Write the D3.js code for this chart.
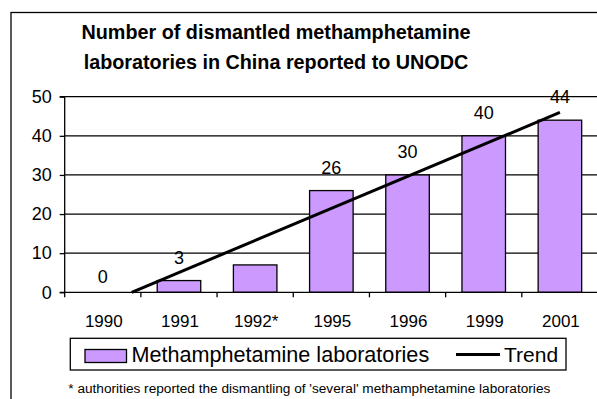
<!DOCTYPE html>
<html>
<head>
<meta charset="utf-8">
<script src="https://cdn.jsdelivr.net/npm/d3@7"></script>
<style>
  html, body { margin: 0; padding: 0; background: #fff; }
  svg { display: block; font-family: Arial, "Liberation Sans", sans-serif; }
</style>
</head>
<body>
<svg id="chart" width="597" height="399"></svg>
<script>
// ---- data ----
const categories = ["1990", "1991", "1992*", "1995", "1996", "1999", "2001"];
const labValues = [0, 3, 7, 26, 30, 40, 44];
const dataLabels = ["0", "3", "", "26", "30", "40", "44"];
const yTicks = [0, 10, 20, 30, 40, 50];
const titleLines = ["Number of dismantled methamphetamine", "laboratories in China reported to UNODC"];
const legendLabels = ["Methamphetamine laboratories", "Trend"];
const footnote = "* authorities reported the dismantling of 'several' methamphetamine laboratories";

// ---- layout ----
const svg = d3.select("#chart");
const plot = { left: 64.7, right: 598, top: 96.7, bottom: 292.3 };

const x = d3.scaleBand().domain(categories).range([plot.left, plot.right]).paddingInner(0.4286).paddingOuter(0.2143);
const xStep = (plot.right - plot.left) / categories.length;
const y = d3.scaleLinear().domain([0, 50]).range([plot.bottom, plot.top]);

// outer frame
svg.append("rect").attr("x", 11).attr("y", 12.5).attr("width", 600).attr("height", 400)
  .attr("fill", "none").attr("stroke", "#000").attr("stroke-width", 1.3);

// title
svg.append("g").selectAll("text").data(titleLines).join("text")
  .attr("x", 276).attr("y", (d, i) => 39 + i * 29.5)
  .attr("text-anchor", "middle").attr("font-weight", "bold").attr("font-size", 19.8)
  .attr("fill", "#000").text(d => d);

// gridlines
svg.append("g").selectAll("line").data(yTicks.filter(t => t > 0)).join("line")
  .attr("x1", plot.left).attr("x2", plot.right)
  .attr("y1", d => y(d)).attr("y2", d => y(d))
  .attr("stroke", "#000").attr("stroke-width", 1.3);

// bars
svg.append("g").selectAll("rect").data(labValues).join("rect")
  .attr("x", (d, i) => x(categories[i]))
  .attr("y", d => y(d))
  .attr("width", x.bandwidth())
  .attr("height", d => y(0) - y(d))
  .attr("fill", "#CC99FF").attr("stroke", "#000").attr("stroke-width", 1.3)
  .attr("display", d => d > 0 ? null : "none");

// y axis
const yAxis = d3.axisLeft(y).tickValues(yTicks).tickSize(5).tickPadding(8);
const gy = svg.append("g").attr("transform", `translate(${plot.left},0)`).call(yAxis);
gy.select(".domain").attr("stroke", "#000").attr("stroke-width", 1.3).attr("d", `M-5,${y(50)}H0V${y(0)}H-5`);
gy.selectAll(".tick line").attr("stroke", "#000").attr("stroke-width", 1.3);
gy.selectAll(".tick text").attr("font-size", 18).attr("fill", "#000").attr("font-family", "Arial, 'Liberation Sans', sans-serif");

// x axis (ticks at category boundaries)
const gx = svg.append("g").attr("transform", `translate(0,${plot.bottom})`);
gx.append("line").attr("x1", plot.left).attr("x2", plot.right).attr("stroke", "#000").attr("stroke-width", 1.3);
gx.selectAll("line.tk").data(d3.range(categories.length + 1)).join("line").attr("class", "tk")
  .attr("x1", i => plot.left + i * xStep).attr("x2", i => plot.left + i * xStep)
  .attr("y1", 0).attr("y2", 5).attr("stroke", "#000").attr("stroke-width", 1.3);
gx.selectAll("text").data(categories).join("text")
  .attr("x", d => x(d) + x.bandwidth() / 2 + 1).attr("y", 34.4)
  .attr("text-anchor", "middle").attr("font-size", 17).attr("fill", "#000").text(d => d);

// trend line: least squares fit over the category index, clipped at y = 0
const n = labValues.length;
const idx = d3.range(1, n + 1);
const mx = d3.mean(idx), my = d3.mean(labValues);
const slope = d3.sum(idx, (k, i) => (k - mx) * (labValues[i] - my)) / d3.sum(idx, k => (k - mx) ** 2);
const intercept = my - slope * mx;
const xAt = k => x(categories[0]) + x.bandwidth() / 2 + (k - 1) * xStep;
const kStart = Math.max(1, -intercept / slope);
const trendPts = [[kStart, intercept + slope * kStart], [n, intercept + slope * n]];
svg.append("path")
  .attr("d", d3.line().x(p => xAt(p[0])).y(p => y(p[1]))(trendPts))
  .attr("fill", "none").attr("stroke", "#000").attr("stroke-width", 3);

// data labels
svg.append("g").selectAll("text").data(labValues).join("text")
  .attr("x", (d, i) => x(categories[i]) + x.bandwidth() / 2)
  .attr("y", d => d > 0 ? y(d) - 17 : y(d) - 9.6)
  .attr("text-anchor", "middle").attr("font-size", 18).attr("fill", "#000")
  .text((d, i) => dataLabels[i]);

// legend
const lg = svg.append("g");
lg.append("rect").attr("x", 70.3).attr("y", 338.3).attr("width", 495.7).attr("height", 31.7)
  .attr("fill", "#fff").attr("stroke", "#000").attr("stroke-width", 1.3);
lg.append("rect").attr("x", 85).attr("y", 349.5).attr("width", 41.5).attr("height", 13)
  .attr("fill", "#CC99FF").attr("stroke", "#000").attr("stroke-width", 1.3);
lg.append("text").attr("x", 131.5).attr("y", 361.5).attr("font-size", 21.6).attr("fill", "#000").text(legendLabels[0]);
lg.append("line").attr("x1", 456).attr("x2", 500).attr("y1", 354.5).attr("y2", 354.5)
  .attr("stroke", "#000").attr("stroke-width", 3);
lg.append("text").attr("x", 504).attr("y", 361.5).attr("font-size", 21).attr("fill", "#000").text(legendLabels[1]);

// footnote
svg.append("text").attr("x", 68.3).attr("y", 393).attr("font-size", 12.5).attr("fill", "#000")
  .attr("textLength", 482).attr("lengthAdjust", "spacingAndGlyphs").text(footnote);
</script>
</body>
</html>
